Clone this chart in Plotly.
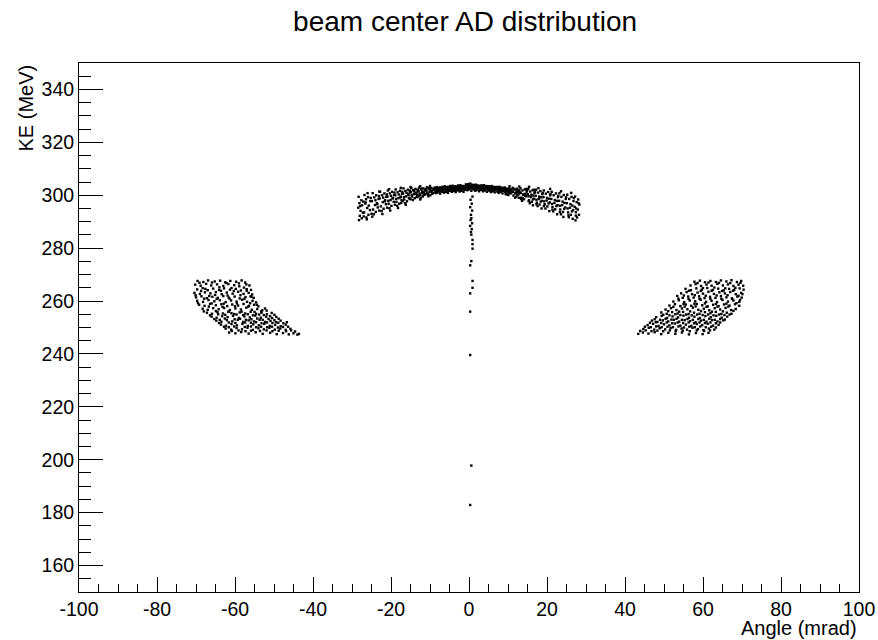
import plotly.graph_objects as go

# === Data (angle in mrad, kinetic energy in MeV) ===
arc_pts = [
    (-28.3, 299.4), (-27.6, 298.1), (-28.1, 297.0), (-27.4, 296.2), (-28.4, 295.3), (-27.8, 294.1),
    (-27.2, 293.4), (-28.0, 292.2), (-27.5, 291.3), (-28.2, 290.6), (-27.1, 297.6), (-27.9, 295.9),
    (-26.8, 300.1), (-25.9, 299.3), (-26.4, 298.5), (-25.3, 297.8), (-26.6, 296.9), (-25.7, 296.1),
    (-26.1, 295.2), (-25.4, 294.4), (-26.9, 293.5), (-25.8, 292.6), (-26.3, 291.6), (-25.2, 299.0),
    (-26.5, 297.3),
    (-24.7, 300.8), (-23.8, 300.0), (-24.3, 299.2), (-23.2, 298.6), (-24.9, 297.8), (-23.6, 297.0),
    (-24.1, 296.3), (-23.4, 295.4), (-24.6, 294.6), (-23.9, 293.7), (-24.4, 292.8), (-23.1, 299.7),
    (-24.0, 298.1), (-23.5, 296.6),
    (-22.8, 301.3), (-21.7, 300.7), (-22.3, 300.0), (-21.2, 299.4), (-22.9, 298.8), (-21.5, 298.1),
    (-22.1, 297.4), (-21.3, 296.6), (-22.6, 295.8), (-21.9, 294.9), (-22.4, 294.0), (-21.1, 300.3),
    (-22.0, 299.1), (-21.6, 297.7),
    (-20.8, 301.8), (-19.7, 301.3), (-20.3, 300.7), (-19.2, 300.1), (-20.9, 299.5), (-19.5, 298.8),
    (-20.1, 298.2), (-19.3, 297.5), (-20.6, 296.8), (-19.9, 296.0), (-20.4, 295.1), (-19.1, 301.0),
    (-20.0, 299.8), (-19.6, 299.0), (-20.7, 297.9),
    (-18.8, 302.2), (-17.7, 301.7), (-18.3, 301.1), (-17.2, 300.6), (-18.9, 300.0), (-17.5, 299.5),
    (-18.1, 298.9), (-17.3, 298.2), (-18.6, 297.5), (-17.9, 296.8), (-18.4, 296.0), (-17.1, 301.3),
    (-18.0, 300.3), (-17.6, 299.2), (-18.7, 298.6), (-17.4, 297.1),
    (-16.8, 302.6), (-15.7, 302.1), (-16.3, 301.6), (-15.2, 301.1), (-16.9, 300.6), (-15.5, 300.1),
    (-16.1, 299.6), (-15.3, 299.0), (-16.6, 298.4), (-15.9, 297.7), (-16.4, 297.0), (-15.1, 301.8),
    (-16.0, 300.9), (-15.6, 300.3), (-16.7, 299.3), (-15.4, 298.8),
    (-14.8, 302.8), (-13.7, 302.4), (-14.3, 302.0), (-13.2, 301.6), (-14.9, 301.2), (-13.5, 300.8),
    (-14.1, 300.4), (-13.3, 300.0), (-14.6, 299.5), (-13.9, 298.9), (-14.4, 298.2), (-13.1, 302.1),
    (-14.0, 301.4), (-13.6, 300.6), (-14.7, 300.1), (-13.4, 299.3), (-14.2, 301.8),
    (-12.8, 302.9), (-11.7, 302.6), (-12.3, 302.2), (-11.2, 301.9), (-12.9, 301.5), (-11.5, 301.2),
    (-12.1, 300.8), (-11.3, 300.4), (-12.6, 300.0), (-11.9, 299.5), (-12.4, 298.9), (-11.1, 302.3),
    (-12.0, 301.7), (-11.6, 301.0), (-12.7, 300.6), (-11.4, 300.2), (-12.2, 302.5), (-11.8, 299.8),
    (-10.8, 303.0), (-9.7, 302.7), (-10.3, 302.4), (-9.2, 302.1), (-10.9, 301.8), (-9.5, 301.5),
    (-10.1, 301.2), (-9.3, 300.8), (-10.6, 300.4), (-9.9, 300.0), (-10.4, 299.6), (-9.1, 302.5),
    (-10.0, 302.0), (-9.6, 301.3), (-10.7, 301.0), (-9.4, 300.6), (-10.2, 302.8), (-9.8, 301.7),
    (-10.5, 300.2),
    (-8.8, 302.9), (-7.7, 302.7), (-8.3, 302.5), (-7.2, 302.3), (-8.9, 302.1), (-7.5, 301.9),
    (-8.1, 301.7), (-7.3, 301.5), (-8.6, 301.3), (-7.9, 301.1), (-8.4, 300.8), (-7.1, 302.6),
    (-8.0, 302.2), (-7.6, 301.6), (-8.7, 301.0), (-7.4, 300.6), (-8.2, 303.1), (-7.8, 302.0),
    (-8.5, 301.8), (-7.0, 301.4),
    (-6.8, 303.2), (-5.7, 303.0), (-6.3, 302.8), (-5.2, 302.6), (-6.9, 302.4), (-5.5, 302.2),
    (-6.1, 302.0), (-5.3, 301.8), (-6.6, 301.6), (-5.9, 301.3), (-6.4, 301.0), (-5.1, 302.9),
    (-6.0, 302.5), (-5.6, 301.9), (-6.7, 301.4), (-5.4, 300.9), (-6.2, 303.4), (-5.8, 302.3),
    (-6.5, 302.1), (-5.0, 301.7),
    (-4.8, 303.5), (-3.7, 303.3), (-4.3, 303.1), (-3.2, 302.9), (-4.9, 302.7), (-3.5, 302.5),
    (-4.1, 302.3), (-3.3, 302.1), (-4.6, 301.9), (-3.9, 301.6), (-4.4, 301.3), (-3.1, 303.2),
    (-4.0, 302.8), (-3.6, 302.2), (-4.7, 301.7), (-3.4, 301.2), (-4.2, 303.6), (-3.8, 302.6),
    (-4.5, 302.4), (-3.0, 302.0),
    (-2.8, 303.7), (-1.7, 303.4), (-2.3, 303.2), (-1.2, 303.0), (-2.9, 302.8), (-1.5, 302.6),
    (-2.1, 302.4), (-1.3, 302.2), (-2.6, 302.0), (-1.9, 301.7), (-2.4, 301.4), (-1.1, 303.3),
    (-2.0, 302.9), (-1.6, 302.3), (-2.7, 301.8), (-1.4, 301.3), (-2.2, 303.8), (-1.8, 302.7),
    (-2.5, 302.5), (-1.0, 302.1),
    (-0.8, 304.1), (0.3, 304.4), (-0.3, 303.8), (0.8, 303.6), (-0.9, 303.3), (0.5, 303.1),
    (-0.1, 302.9), (0.7, 302.7), (-0.6, 302.5), (0.1, 302.2), (-0.4, 301.9), (0.9, 303.9),
    (0.0, 303.4), (0.4, 302.8), (-0.7, 302.3), (0.6, 301.7), (-0.2, 304.2), (0.2, 303.0),
    (-0.5, 302.6), (1.0, 302.4),
    (1.2, 303.9), (2.3, 303.7), (1.7, 303.5), (2.8, 303.3), (1.1, 303.1), (2.5, 302.9),
    (1.9, 302.7), (2.7, 302.5), (1.4, 302.3), (2.1, 302.0), (1.6, 301.7), (2.9, 303.6),
    (2.0, 303.2), (2.4, 302.6), (1.3, 302.2), (2.6, 301.5), (1.8, 304.0), (2.2, 302.8),
    (1.5, 302.4), (3.0, 302.1),
    (3.2, 303.7), (4.3, 303.5), (3.7, 303.3), (4.8, 303.1), (3.1, 302.9), (4.5, 302.7),
    (3.9, 302.5), (4.7, 302.3), (3.4, 302.1), (4.1, 301.8), (3.6, 301.5), (4.9, 303.4),
    (4.0, 303.0), (4.4, 302.4), (3.3, 302.0), (4.6, 301.3), (3.8, 303.8), (4.2, 302.6),
    (3.5, 302.2), (5.0, 301.9),
    (5.2, 303.4), (6.3, 303.2), (5.7, 303.0), (6.8, 302.8), (5.1, 302.6), (6.5, 302.4),
    (5.9, 302.2), (6.7, 302.0), (5.4, 301.8), (6.1, 301.5), (5.6, 301.2), (6.9, 303.1),
    (6.0, 302.7), (6.4, 302.1), (5.3, 301.7), (6.6, 301.1), (5.8, 303.5), (6.2, 302.3),
    (5.5, 301.9), (7.0, 302.5),
    (7.2, 303.1), (8.3, 302.9), (7.7, 302.7), (8.8, 302.5), (7.1, 302.3), (8.5, 302.1),
    (7.9, 301.9), (8.7, 301.7), (7.4, 301.5), (8.1, 301.2), (7.6, 300.9), (8.9, 302.8),
    (8.0, 302.4), (8.4, 301.8), (7.3, 301.4), (8.6, 300.7), (7.8, 303.2), (8.2, 302.0),
    (7.5, 301.6), (9.0, 302.2),
    (9.2, 302.9), (10.3, 302.6), (9.7, 302.3), (10.8, 302.0), (9.1, 301.7), (10.5, 301.4),
    (9.9, 301.1), (10.7, 300.7), (9.4, 300.4), (10.1, 300.1), (9.6, 302.5), (10.9, 301.9),
    (10.0, 301.5), (10.4, 300.9), (9.3, 301.3), (10.6, 302.2), (9.8, 300.3), (10.2, 301.8),
    (11.2, 302.8), (12.3, 302.5), (11.7, 302.1), (12.8, 301.8), (11.1, 301.4), (12.5, 301.1),
    (11.9, 300.7), (12.7, 300.3), (11.4, 299.9), (12.1, 299.4), (11.6, 302.4), (12.9, 301.5),
    (12.0, 300.9), (12.4, 300.0), (11.3, 301.2), (12.6, 302.0), (11.8, 299.1), (12.2, 301.7),
    (13.2, 302.6), (14.3, 302.2), (13.7, 301.8), (14.8, 301.4), (13.1, 301.0), (14.5, 300.6),
    (13.9, 300.1), (14.7, 299.6), (13.4, 299.1), (14.1, 298.5), (13.6, 297.9), (14.9, 301.9),
    (14.0, 300.4), (14.4, 299.8), (13.3, 300.8), (14.6, 302.4), (13.8, 298.8),
    (15.2, 302.4), (16.3, 301.9), (15.7, 301.4), (16.8, 300.9), (15.1, 300.4), (16.5, 299.9),
    (15.9, 299.3), (16.7, 298.7), (15.4, 298.1), (16.1, 297.5), (15.6, 297.0), (16.9, 301.2),
    (16.0, 300.2), (16.4, 298.4), (15.3, 299.6), (16.6, 302.1),
    (17.2, 302.1), (18.3, 301.6), (17.7, 301.0), (18.8, 300.4), (17.1, 299.8), (18.5, 299.2),
    (17.9, 298.6), (18.7, 297.9), (17.4, 297.2), (18.1, 296.5), (17.6, 295.9), (18.9, 300.9),
    (18.0, 299.5), (18.4, 297.6), (17.3, 298.3),
    (19.2, 301.8), (20.3, 301.2), (19.7, 300.6), (20.8, 300.0), (19.1, 299.3), (20.5, 298.7),
    (19.9, 298.0), (20.7, 297.3), (19.4, 296.6), (20.1, 295.8), (19.6, 295.0), (20.9, 300.4),
    (20.0, 299.0), (20.4, 296.9), (19.3, 297.7),
    (21.2, 301.3), (22.3, 300.7), (21.7, 300.0), (22.8, 299.3), (21.1, 298.6), (22.5, 297.9),
    (21.9, 297.1), (22.7, 296.3), (21.4, 295.5), (22.1, 294.7), (21.6, 293.9), (22.9, 299.8),
    (22.0, 298.2), (22.4, 295.9), (21.3, 296.7),
    (23.2, 300.8), (24.3, 300.1), (23.7, 299.4), (24.8, 298.6), (23.1, 297.9), (24.5, 297.1),
    (23.9, 296.3), (24.7, 295.4), (23.4, 294.6), (24.1, 293.7), (23.6, 292.8), (24.9, 299.2),
    (24.0, 297.6), (24.4, 294.9), (23.3, 296.0),
    (25.2, 300.2), (26.3, 299.4), (25.7, 298.6), (26.8, 297.8), (25.1, 297.0), (26.5, 296.1),
    (25.9, 295.3), (26.7, 294.4), (25.4, 293.5), (26.1, 292.6), (25.6, 291.7), (26.9, 298.9),
    (26.0, 296.6), (26.4, 293.9), (25.3, 295.0),
    (27.2, 299.5), (28.0, 298.4), (27.6, 297.4), (28.3, 296.5), (27.1, 295.6), (27.9, 294.6),
    (27.4, 293.6), (28.2, 292.6), (27.7, 291.6), (27.3, 290.5), (28.1, 297.0), (27.5, 295.0),
]

# looser points around the arc: wings, fringes and the dark core
arc_extra_pts = [
    (-27.0, 292.0), (-26.2, 290.9), (-25.0, 293.0), (-24.8, 291.9), (-23.0, 294.2), (-22.2, 292.9),
    (-21.0, 295.3), (-20.2, 294.2), (-19.0, 296.4), (-18.2, 295.2), (-17.0, 297.8), (-16.2, 296.4),
    (-15.0, 298.5), (-13.0, 299.5), (-12.5, 298.4), (-26.0, 300.8), (-23.0, 301.4), (-20.5, 302.3),
    (-17.5, 302.8), (-15.0, 303.1), (-12.5, 303.4), (-10.0, 303.5),
    (27.4, 292.3), (26.6, 291.1), (25.5, 292.4), (24.2, 291.8), (23.3, 293.6), (22.6, 292.8),
    (21.4, 294.5), (20.6, 294.0), (19.2, 295.9), (18.6, 295.0), (17.3, 296.6), (16.4, 296.2),
    (15.3, 297.8), (13.4, 298.6), (12.8, 299.0), (26.2, 300.9), (23.6, 301.5), (20.8, 302.4),
    (17.8, 302.7), (15.4, 303.2), (12.9, 303.3), (10.4, 303.4),
    (-8.5, 302.4), (-7.4, 303.0), (-6.4, 302.7), (-5.4, 303.2), (-4.5, 303.0), (-3.5, 303.4),
    (-2.5, 303.0), (-1.5, 303.5), (-0.5, 303.7), (0.5, 304.0), (1.5, 303.8), (2.5, 303.4),
    (3.5, 303.5), (4.5, 303.2), (5.5, 303.0), (6.5, 302.9), (7.5, 302.6), (8.5, 302.4),
    (9.5, 302.0), (-8.3, 301.4), (-6.6, 301.9), (-4.3, 302.0), (-2.3, 302.2), (-0.3, 302.6),
    (1.7, 302.9), (3.7, 302.8), (5.7, 302.5), (7.7, 302.2), (9.5, 301.6),
]

tail_pts = [
    (0.9, 299.5), (0.4, 298.3), (0.7, 296.8), (0.3, 295.5), (0.8, 294.2), (0.5, 292.6),
    (0.6, 291.3), (0.4, 290.6), (0.8, 289.4), (0.3, 288.4), (0.7, 287.2), (0.5, 286.1),
    (0.6, 285.1), (0.9, 283.1), (0.9, 281.5), (0.9, 279.8), (0.6, 275.1), (0.3, 273.5),
    (0.9, 267.6), (0.9, 265.0), (0.3, 262.9), (0.3, 256.0), (0.3, 239.6), (0.6, 197.8),
    (0.3, 182.9),
]

left_pts = [
    (-69.6, 267.6), (-68.1, 267.2), (-66.9, 267.8), (-65.2, 267.4), (-63.8, 267.7), (-62.5, 267.1),
    (-61.2, 267.6), (-59.7, 267.3), (-58.3, 267.8), (-57.4, 267.0),
    (-70.2, 266.2), (-68.8, 265.8), (-67.4, 266.5), (-66.1, 265.9), (-64.6, 266.3), (-63.0, 265.7),
    (-61.7, 266.4), (-60.2, 266.0), (-58.9, 265.6), (-57.1, 266.3), (-56.3, 265.9),
    (-69.7, 264.4), (-68.3, 264.9), (-67.0, 264.1), (-65.6, 264.7), (-64.1, 264.2), (-62.8, 264.8),
    (-61.3, 264.3), (-59.8, 264.6), (-58.5, 264.0), (-57.0, 264.5), (-55.9, 264.2),
    (-70.4, 263.1), (-69.0, 262.7), (-67.7, 263.3), (-66.3, 262.9), (-64.9, 263.4), (-63.4, 262.6),
    (-62.1, 263.2), (-60.6, 262.8), (-59.2, 263.5), (-57.8, 262.7), (-56.5, 263.1), (-55.6, 262.5),
    (-70.0, 261.4), (-68.6, 261.8), (-67.2, 261.1), (-65.8, 261.6), (-64.4, 261.2), (-63.0, 261.9),
    (-61.6, 261.3), (-60.1, 261.7), (-58.8, 261.0), (-57.3, 261.5), (-56.0, 261.8), (-55.2, 261.2),
    (-69.7, 260.1), (-68.2, 259.7), (-66.8, 260.4), (-65.3, 259.9), (-63.9, 260.3), (-62.4, 259.6),
    (-61.0, 260.2), (-59.6, 259.8), (-58.2, 260.5), (-56.9, 259.7), (-55.5, 260.1), (-54.6, 259.5),
    (-69.2, 258.6), (-67.8, 258.2), (-66.4, 258.9), (-64.9, 258.4), (-63.5, 258.8), (-62.0, 258.1),
    (-60.7, 258.7), (-59.2, 258.3), (-57.8, 258.9), (-56.4, 258.2), (-55.1, 258.6), (-54.0, 258.0),
    (-68.3, 257.1), (-67.0, 256.7), (-65.6, 257.3), (-64.2, 256.9), (-62.8, 257.4), (-61.3, 256.6),
    (-59.9, 257.2), (-58.5, 256.8), (-57.1, 257.5), (-55.7, 256.7), (-54.3, 257.0), (-53.0, 256.5),
    (-52.3, 257.2),
    (-67.2, 255.6), (-65.9, 255.2), (-64.5, 255.8), (-63.1, 255.3), (-61.7, 255.9), (-60.2, 255.1),
    (-58.8, 255.7), (-57.4, 255.3), (-56.0, 255.9), (-54.6, 255.2), (-53.2, 255.6), (-51.8, 255.0),
    (-50.6, 255.5),
    (-66.0, 254.1), (-64.7, 253.7), (-63.3, 254.3), (-61.9, 253.9), (-60.5, 254.4), (-59.0, 253.6),
    (-57.6, 254.2), (-56.2, 253.8), (-54.8, 254.5), (-53.4, 253.7), (-52.0, 254.1), (-50.5, 253.6),
    (-49.4, 254.0),
    (-64.8, 252.6), (-63.5, 252.2), (-62.1, 252.8), (-60.7, 252.3), (-59.3, 252.9), (-57.9, 252.1),
    (-56.5, 252.7), (-55.1, 252.3), (-53.7, 252.9), (-52.3, 252.1), (-50.9, 252.5), (-49.5, 252.0),
    (-48.3, 252.6),
    (-63.6, 251.1), (-62.3, 250.7), (-60.9, 251.3), (-59.5, 250.8), (-58.1, 251.4), (-56.7, 250.6),
    (-55.3, 251.2), (-53.9, 250.8), (-52.5, 251.4), (-51.1, 250.6), (-49.7, 251.0), (-48.3, 250.5),
    (-47.0, 251.1),
    (-62.4, 249.6), (-61.0, 249.2), (-59.6, 249.8), (-58.2, 249.3), (-56.8, 249.9), (-55.4, 249.1),
    (-54.0, 249.7), (-52.6, 249.3), (-51.2, 249.9), (-49.8, 249.2), (-48.4, 249.6), (-47.0, 249.1),
    (-45.8, 249.5),
    (-61.5, 248.1), (-59.9, 247.8), (-58.4, 248.3), (-56.5, 247.7), (-54.7, 248.2), (-52.9, 247.6),
    (-51.0, 248.0), (-49.3, 247.5), (-47.7, 247.9), (-46.2, 247.4), (-45.0, 247.8), (-44.0, 247.3),
    # second pass of dots between the rows
    (-69.1, 266.9), (-67.6, 264.6), (-65.9, 267.0), (-64.0, 265.2), (-62.2, 266.8), (-60.9, 264.9),
    (-59.0, 266.7), (-57.7, 265.1),
    (-70.1, 262.2), (-68.7, 263.8), (-66.6, 261.9), (-65.1, 262.3), (-63.6, 263.9), (-61.9, 262.1),
    (-60.3, 263.8), (-58.6, 262.2), (-57.0, 263.9), (-55.8, 261.6),
    (-69.5, 259.2), (-67.9, 260.9), (-66.0, 259.1), (-64.7, 260.8), (-62.9, 259.0), (-61.4, 260.9),
    (-59.5, 259.1), (-57.6, 260.8), (-56.1, 259.2), (-54.4, 258.6),
    (-68.0, 256.1), (-66.7, 257.9), (-64.9, 256.2), (-63.2, 257.8), (-61.6, 256.0), (-60.0, 258.0),
    (-58.3, 256.0), (-56.6, 257.9), (-55.0, 255.9), (-53.3, 256.1), (-51.9, 256.4),
    (-66.4, 254.6), (-64.3, 255.0), (-62.5, 254.8), (-60.9, 255.4), (-59.6, 254.9), (-57.9, 254.7),
    (-56.7, 255.0), (-55.4, 254.6), (-53.8, 254.9), (-52.6, 254.7), (-51.0, 254.3), (-49.9, 254.8),
    (-65.3, 253.2), (-63.9, 252.9), (-62.6, 253.4), (-60.1, 253.1), (-58.7, 253.3), (-57.2, 252.9),
    (-55.8, 253.1), (-54.3, 253.4), (-52.9, 252.9), (-51.4, 253.2), (-49.9, 252.8), (-48.8, 253.3),
    (-64.1, 251.7), (-61.6, 251.9), (-59.9, 251.7), (-57.4, 251.9), (-55.9, 251.8), (-54.6, 252.0),
    (-53.2, 251.6), (-51.8, 251.9), (-50.4, 251.7), (-48.9, 251.8), (-47.6, 251.6), (-46.7, 252.0),
    (-62.8, 250.3), (-61.6, 250.1), (-60.2, 250.4), (-57.5, 250.2), (-55.9, 250.4), (-54.6, 250.1),
    (-53.3, 250.3), (-51.8, 250.1), (-50.5, 250.3), (-49.0, 250.0), (-47.7, 250.2), (-46.4, 250.3),
    (-60.8, 248.7), (-59.1, 248.9), (-57.3, 248.6), (-55.9, 248.8), (-53.6, 248.7), (-51.9, 248.9),
    (-50.4, 248.6), (-48.8, 248.8), (-46.9, 248.6), (-45.6, 248.9), (-44.6, 248.5), (-43.6, 247.6),
]

right_pts = [
    (57.8, 267.3), (59.2, 267.7), (60.5, 267.1), (61.9, 267.6), (63.3, 267.2), (64.6, 267.8),
    (66.0, 267.4), (67.3, 267.9), (68.7, 267.2), (69.8, 267.6),
    (56.8, 265.9), (58.1, 266.4), (59.5, 265.7), (60.9, 266.2), (62.2, 265.8), (63.7, 266.5),
    (65.1, 265.9), (66.4, 266.3), (67.8, 265.7), (69.1, 266.2), (70.3, 265.8),
    (55.5, 264.6), (56.9, 264.1), (58.3, 264.8), (59.7, 264.3), (61.1, 264.9), (62.5, 264.2),
    (63.9, 264.7), (65.3, 264.0), (66.7, 264.6), (68.0, 264.2), (69.4, 264.8), (70.4, 264.3),
    (54.4, 262.9), (55.8, 263.4), (57.2, 262.6), (58.6, 263.2), (60.0, 262.8), (61.4, 263.5),
    (62.8, 262.7), (64.2, 263.3), (65.6, 262.9), (67.0, 263.4), (68.4, 262.6), (69.8, 263.1),
    (53.4, 261.9), (54.8, 261.2), (56.2, 261.7), (57.6, 261.3), (59.0, 261.8), (60.4, 261.1),
    (61.8, 261.6), (63.2, 261.2), (64.6, 261.9), (66.0, 261.4), (67.4, 261.0), (68.8, 261.7),
    (69.9, 261.3),
    (52.4, 259.8), (53.8, 260.3), (55.2, 259.6), (56.6, 260.2), (58.0, 259.9), (59.4, 260.5),
    (60.8, 259.7), (62.2, 260.1), (63.6, 259.6), (65.0, 260.4), (66.4, 259.8), (67.8, 260.2),
    (69.3, 259.7),
    (51.4, 258.3), (52.8, 258.8), (54.2, 258.1), (55.6, 258.7), (57.0, 258.2), (58.4, 258.9),
    (59.8, 258.4), (61.2, 258.0), (62.6, 258.6), (64.0, 258.1), (65.4, 258.7), (66.8, 258.3),
    (68.2, 258.8), (69.3, 258.2),
    (50.4, 256.8), (51.8, 257.3), (53.2, 256.6), (54.6, 257.2), (56.0, 256.9), (57.4, 257.5),
    (58.8, 256.7), (60.2, 257.1), (61.6, 256.5), (63.0, 257.3), (64.4, 256.8), (65.8, 257.4),
    (67.2, 256.6), (68.4, 257.0),
    (49.3, 255.7), (50.7, 255.2), (52.1, 255.8), (53.5, 255.3), (54.9, 255.9), (56.3, 255.1),
    (57.7, 255.6), (59.1, 255.2), (60.5, 255.8), (61.9, 255.4), (63.3, 255.9), (64.7, 255.1),
    (66.1, 255.6), (67.3, 255.2),
    (48.0, 253.9), (49.4, 254.4), (50.8, 253.6), (52.2, 254.2), (53.6, 253.8), (55.0, 254.5),
    (56.4, 253.7), (57.8, 254.1), (59.2, 253.6), (60.6, 254.3), (62.0, 253.9), (63.4, 254.4),
    (64.8, 253.7), (66.2, 254.1),
    (46.9, 252.6), (48.3, 252.1), (49.7, 252.7), (51.1, 252.3), (52.5, 252.9), (53.9, 252.2),
    (55.3, 252.8), (56.7, 252.4), (58.1, 252.0), (59.5, 252.6), (60.9, 252.2), (62.3, 252.8),
    (63.7, 252.3), (65.2, 252.7),
    (45.8, 250.9), (47.2, 251.4), (48.6, 250.6), (50.0, 251.2), (51.4, 250.8), (52.8, 251.5),
    (54.2, 250.7), (55.6, 251.1), (57.0, 250.6), (58.4, 251.3), (59.8, 250.9), (61.2, 251.4),
    (62.6, 250.7), (64.0, 251.0),
    (44.7, 249.4), (46.1, 249.9), (47.5, 249.2), (48.9, 249.7), (50.3, 249.3), (51.7, 249.8),
    (53.1, 249.1), (54.5, 249.6), (55.9, 249.2), (57.3, 249.9), (58.7, 249.4), (60.1, 249.0),
    (61.5, 249.6), (62.9, 249.2),
    (43.4, 247.6), (44.6, 248.1), (46.0, 247.7), (47.6, 248.2), (49.3, 247.5), (51.1, 248.0),
    (52.9, 247.6), (54.6, 248.1), (56.4, 247.4), (58.2, 247.9), (59.9, 247.5), (61.4, 248.0),
    # second pass of dots between the rows
    (58.6, 266.8), (60.0, 264.9), (61.4, 267.0), (62.9, 265.1), (64.1, 266.9), (65.7, 264.8),
    (67.0, 266.8), (68.3, 265.0), (69.6, 266.9),
    (55.1, 262.1), (56.4, 263.9), (57.9, 262.2), (59.4, 263.8), (60.7, 262.0), (62.2, 263.9),
    (63.5, 262.1), (64.9, 263.8), (66.3, 262.2), (67.7, 263.9), (69.1, 262.0), (70.1, 262.6),
    (53.7, 260.9), (55.0, 258.9), (56.3, 260.8), (57.8, 259.0), (59.1, 260.9), (60.5, 259.1),
    (61.9, 260.8), (63.3, 258.9), (64.7, 260.9), (66.0, 259.0), (67.5, 260.8), (68.6, 259.2),
    (69.5, 260.4),
    (51.1, 256.2), (52.4, 257.8), (53.9, 256.0), (55.3, 257.9), (56.7, 256.1), (58.1, 258.0),
    (59.5, 256.2), (60.9, 257.8), (62.3, 256.0), (63.7, 257.9), (65.1, 256.1), (66.5, 257.9),
    (67.8, 256.3),
    (49.8, 254.8), (51.4, 254.6), (52.9, 255.0), (54.2, 254.7), (55.7, 254.9), (57.1, 254.6),
    (58.5, 254.9), (59.9, 254.7), (61.3, 254.9), (62.7, 254.6), (64.1, 254.9), (65.5, 254.7),
    (66.8, 254.9),
    (47.6, 253.1), (49.0, 252.9), (50.4, 253.3), (51.9, 253.0), (53.2, 253.3), (54.6, 252.9),
    (56.0, 253.2), (57.4, 252.9), (58.8, 253.2), (60.2, 252.9), (61.6, 253.3), (63.0, 252.9),
    (64.4, 253.2), (65.6, 253.0),
    (46.4, 251.8), (47.9, 252.0), (49.3, 251.7), (50.7, 251.9), (52.1, 251.6), (53.5, 251.9),
    (54.9, 251.7), (56.3, 251.9), (57.7, 251.6), (59.1, 251.9), (60.5, 251.7), (61.9, 251.9),
    (63.3, 251.6), (64.4, 251.9),
    (45.1, 250.3), (46.6, 250.1), (48.0, 250.4), (49.4, 250.1), (50.9, 250.3), (52.3, 250.1),
    (53.7, 250.4), (55.1, 250.0), (56.5, 250.3), (57.9, 250.1), (59.3, 250.4), (60.7, 250.1),
    (62.1, 250.3), (63.3, 250.0),
    (43.9, 248.7), (45.3, 248.9), (46.8, 248.6), (48.3, 248.8), (49.8, 248.6), (51.5, 248.9),
    (53.0, 248.6), (54.8, 248.8), (56.6, 248.6), (58.4, 248.9), (60.3, 248.7), (61.8, 248.9),
]

x_range = [-100, 100]
y_range = [150, 350]
x_ticks = [-100, -80, -60, -40, -20, 0, 20, 40, 60, 80, 100]
x_ticklabels = ["-100", "-80", "-60", "-40", "-20", "0", "20", "40", "60", "80", "100"]
y_ticks = [160, 180, 200, 220, 240, 260, 280, 300, 320, 340]
y_ticklabels = ["160", "180", "200", "220", "240", "260", "280", "300", "320", "340"]

FONT = "Liberation Sans, Arial, Helvetica, sans-serif"

fig = go.Figure()

for pts in [arc_pts, arc_extra_pts, tail_pts, left_pts, right_pts]:
    xs = [p[0] for p in pts]
    ys = [p[1] for p in pts]
    fig.add_trace(go.Scatter(
        x=xs, y=ys, mode="markers",
        marker=dict(symbol="square", size=2.4, color="black", line=dict(width=0)),
        showlegend=False, hoverinfo="x+y"))

axis_common = dict(
    showgrid=False, zeroline=False,
    showline=True, mirror=True, linecolor="black", linewidth=1,
    ticks="inside", tickcolor="black", tickwidth=1,
    tickfont=dict(family=FONT, size=19.5, color="black"),
    automargin=False, tickmode="array",
)

fig.update_xaxes(range=x_range, tickvals=x_ticks, ticktext=x_ticklabels, ticklen=15,
                 minor=dict(dtick=5, tick0=-100, ticks="inside", ticklen=8,
                            tickcolor="black", tickwidth=1),
                 **axis_common)
fig.update_yaxes(range=y_range, tickvals=y_ticks, ticktext=y_ticklabels, ticklen=24,
                 minor=dict(dtick=5, tick0=150, ticks="inside", ticklen=12,
                            tickcolor="black", tickwidth=1),
                 **axis_common)

fig.update_layout(
    width=878, height=640,
    margin=dict(l=79, r=19, t=63, b=48, pad=0),
    paper_bgcolor="white", plot_bgcolor="white",
    title=dict(text="beam center AD distribution", x=0.495, xref="paper",
               xanchor="center", y=1 - 21 / 640, yref="container", yanchor="middle",
               font=dict(family=FONT, size=28, color="black")),
    annotations=[
        dict(text="KE (MeV)", xref="paper", yref="paper", x=-54 / 780, y=1,
             xanchor="center", yanchor="top", textangle=-90, showarrow=False,
             font=dict(family=FONT, size=20, color="black")),
        dict(text="Angle (mrad)", xref="paper", yref="paper", x=1, y=-35.5 / 529,
             xanchor="right", yanchor="middle", showarrow=False,
             font=dict(family=FONT, size=20, color="black")),
    ],
)

# page body has a default 8px margin; drop it so the figure fills the window
fig.write_html("out.html", config={"displayModeBar": False},
               post_script="document.body.style.margin = '0';")
